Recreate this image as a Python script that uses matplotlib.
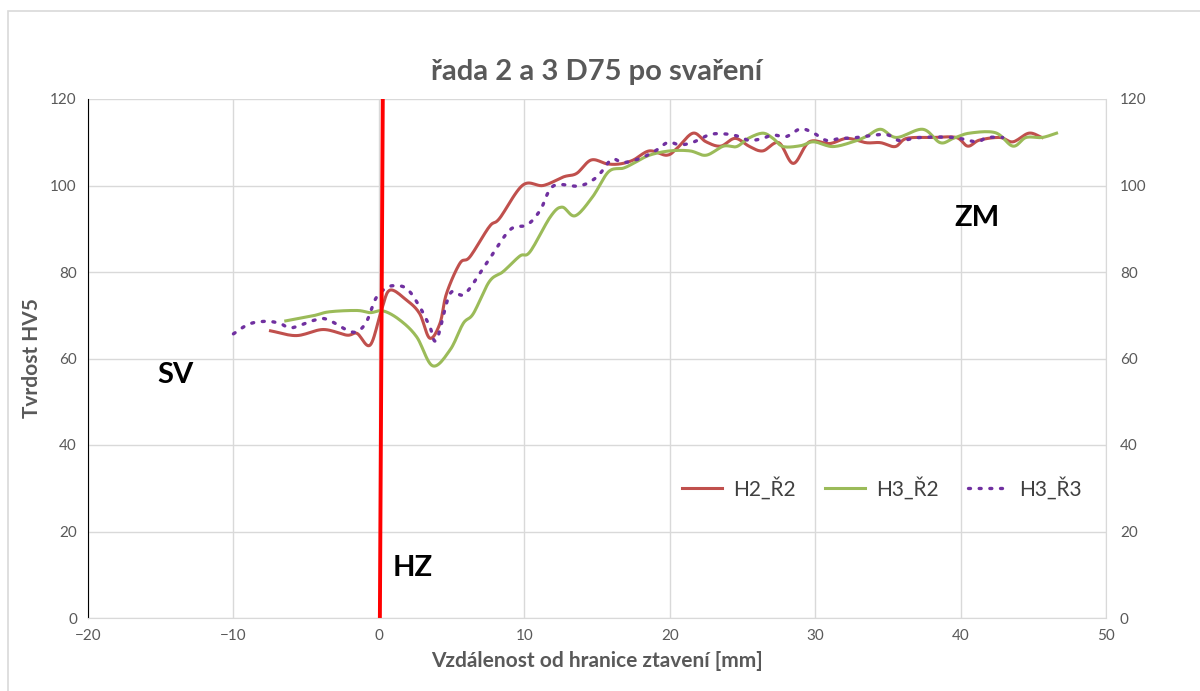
import numpy as np
import matplotlib.pyplot as plt
from matplotlib.patches import Rectangle

plt.rcParams['font.family'] = ['Lato', 'DejaVu Sans']

# hodnoty
x_h2r2 = [-7.45, -5.66, -3.83, -2.2, -1.5, -0.6, 0.18, 0.76, 1.9, 2.8, 3.5, 4.2, 4.65,
          5.57, 6.26, 7.6, 8.3, 9.9, 11.3, 12.7, 13.6, 14.6, 15.7, 16.6, 17.5, 18.6, 19.8,
          20.5, 21.6, 22.5, 23.5, 24.5, 25.5, 26.4, 27.5, 28.5, 29.6, 31.0, 32.2, 33.5,
          34.5, 35.5, 36.3, 38.1, 39.7, 40.5, 41.3, 42.7, 43.6, 44.7, 45.6]
y_h2r2 = [66.4, 65.3, 66.7, 65.4, 65.8, 63.1, 71.2, 75.8, 73.5, 70.4, 64.7, 68.1, 75.0,
          82.0, 83.5, 90.5, 92.4, 100.1, 100.0, 102.0, 102.8, 105.9, 105.0, 105.0, 105.9,
          108.0, 107.0, 108.6, 112.1, 110.1, 109.1, 110.9, 109.0, 108.0, 109.9, 105.1,
          110.1, 109.7, 110.9, 109.9, 109.9, 109.0, 110.9, 111.1, 111.1, 109.1, 110.5,
          111.1, 110.1, 112.1, 111.1]

x_h3r2 = [-6.4, -4.5, -3.4, -1.5, -0.6, 0.3, 1.44, 2.6, 3.7, 4.9, 5.8, 6.5, 7.6, 8.55,
          9.7, 10.4, 11.8, 12.6, 13.5, 14.7, 15.8, 16.8, 17.5, 18.6, 20.0, 21.4, 22.5,
          23.7, 24.6, 25.4, 26.4, 27.1, 27.8, 29.0, 29.9, 31.2, 32.6, 33.5, 34.5, 35.6,
          37.4, 38.6, 39.5, 40.6, 42.4, 43.6, 44.5, 45.6, 46.6]
y_h3r2 = [68.7, 69.9, 70.8, 71.1, 70.6, 71.0, 68.9, 65.0, 58.3, 62.0, 68.1, 70.4, 77.8,
          80.1, 83.7, 84.7, 92.8, 95.0, 93.0, 97.4, 103.2, 104.0, 105.1, 107.0, 108.0,
          108.0, 107.0, 109.1, 109.0, 110.9, 112.1, 110.9, 109.0, 109.2, 110.1, 109.0,
          110.1, 111.3, 113.0, 111.1, 113.0, 109.9, 110.9, 112.1, 112.2, 109.1, 111.1,
          111.1, 112.1]

x_h3r3 = [-10.0, -8.9, -7.7, -6.8, -6.0, -4.5, -3.6, -2.2, -1.5, -0.85, -0.27, 0.18,
          0.87, 1.9, 2.8, 3.5, 3.97, 4.9, 5.9, 7.4, 9.0, 10.2, 11.1, 12.0, 13.8, 15.0,
          16.0, 16.8, 18.0, 19.1, 19.9, 20.7, 21.6, 22.8, 23.9, 24.8, 25.5, 26.4, 27.1,
          28.0, 29.0, 29.9, 30.8, 31.7, 32.6, 34.8, 35.8, 37.2, 39.5, 41.1, 41.8, 42.9]
y_h3r3 = [65.7, 68.0, 68.6, 68.1, 67.1, 68.8, 69.1, 66.6, 66.2, 68.5, 73.5, 75.5, 76.8,
          76.2, 72.0, 67.4, 64.3, 75.0, 74.9, 82.0, 89.7, 90.9, 94.3, 99.9, 99.9, 102.0,
          106.0, 105.3, 106.3, 108.2, 110.0, 109.4, 110.0, 111.8, 111.9, 111.3, 110.4,
          110.9, 111.7, 111.3, 113.1, 112.1, 110.4, 110.9, 111.0, 111.8, 110.4, 111.1,
          111.1, 110.1, 111.1, 111.1]

# hranice ztavení (čára trochu šikmo)
hz_x = [0.07, 0.27]
hz_y = [0, 120]

x_ticks = [-20, -10, 0, 10, 20, 30, 40, 50]
y_ticks = [0, 20, 40, 60, 80, 100, 120]


def smooth(x, y, n=12):
    # vyhlazení jako v Excelu (Catmull-Rom)
    x = np.asarray(x, float)
    y = np.asarray(y, float)
    px = np.concatenate([[2 * x[0] - x[1]], x, [2 * x[-1] - x[-2]]])
    py = np.concatenate([[2 * y[0] - y[1]], y, [2 * y[-1] - y[-2]]])
    t = np.linspace(0, 1, n, endpoint=False)
    xs, ys = [], []
    for i in range(1, len(px) - 2):
        for p, out in ((px, xs), (py, ys)):
            p0, p1, p2, p3 = p[i - 1], p[i], p[i + 1], p[i + 2]
            out.extend(0.5 * ((2 * p1) + (-p0 + p2) * t
                              + (2 * p0 - 5 * p1 + 4 * p2 - p3) * t ** 2
                              + (-p0 + 3 * p1 - 3 * p2 + p3) * t ** 3))
    xs.append(x[-1])
    ys.append(y[-1])
    return xs, ys


gray = '#595959'
grid = '#D9D9D9'

fig = plt.figure(figsize=(12, 6.91), dpi=100)
fig.patches.append(Rectangle((8 / 1200, -0.1), 1.2, 1 - 11 / 691 + 0.1,
                             transform=fig.transFigure, fill=False,
                             edgecolor=grid, linewidth=1.2))
ax = fig.add_axes([88 / 1200, 73 / 691, 1018 / 1200, 519 / 691])

ax.plot(*smooth(x_h2r2, y_h2r2), color='#C0504D', lw=2.2, label='H2_Ř2')
ax.plot(*smooth(x_h3r2, y_h3r2), color='#9BBB59', lw=2.2, label='H3_Ř2')
ax.plot(*smooth(x_h3r3, y_h3r3), color='#7030A0', lw=2.4, ls=(0, (0.6, 2.6)),
        dash_capstyle='round', label='H3_Ř3')
ax.plot(hz_x, hz_y, color='#FF0000', lw=2.8, solid_capstyle='butt')

ax.set_xlim(-20, 50)
ax.set_ylim(0, 120)
ax.set_xticks(x_ticks)
ax.set_yticks(y_ticks)
ax.grid(True, color=grid, lw=1)
ax.set_axisbelow(True)
ax.tick_params(length=0, labelsize=11, labelcolor=gray, pad=8)
ax.spines['left'].set_color('black')
ax.spines['bottom'].set_color(grid)
ax.spines['right'].set_color(grid)
ax.spines['top'].set_visible(False)

ax2 = ax.twinx()
ax2.set_ylim(0, 120)
ax2.set_yticks(y_ticks)
ax2.tick_params(length=0, labelsize=11, labelcolor=gray, pad=10)
for s in ax2.spines.values():
    s.set_visible(False)

ax.set_title('řada 2 a 3 D75 po svaření', fontsize=21, fontweight='bold',
             color=gray, pad=14)
ax.set_xlabel('Vzdálenost od hranice ztavení [mm]', fontsize=15,
              fontweight='bold', color=gray, labelpad=6)
ax.set_ylabel('Tvrdost HV5', fontsize=15, fontweight='bold', color=gray,
              labelpad=6)

ax.text(-14.0, 56.2, 'SV', fontsize=21, fontweight='bold', ha='center', va='center')
ax.text(2.3, 11.6, 'HZ', fontsize=21, fontweight='bold', ha='center', va='center')
ax.text(41.1, 92.5, 'ZM', fontsize=21, fontweight='bold', ha='center', va='center')

leg = ax.legend(loc='center', bbox_to_anchor=(0.78, 0.25), ncol=3, frameon=False,
                fontsize=15, handlelength=1.9, columnspacing=1.4,
                handletextpad=0.55)
for t in leg.get_texts():
    t.set_color('#404040')

fig.savefig('out.png', dpi=100)
